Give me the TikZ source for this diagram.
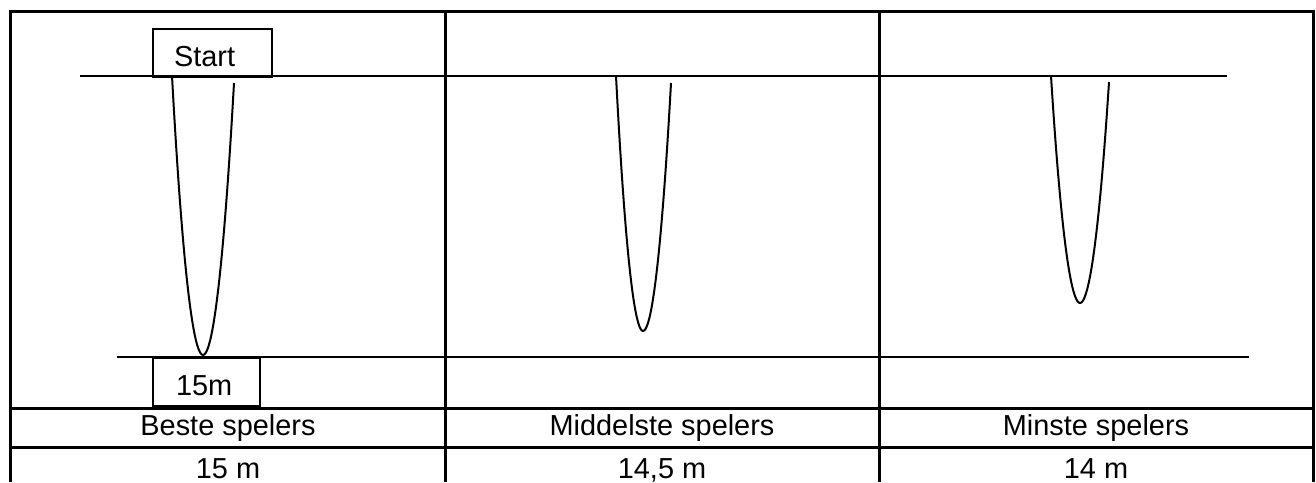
\documentclass[tikz,border=0pt]{standalone}
\usepackage{fontspec}
\setmainfont{Liberation Sans}
\tikzset{
    frame/.style={line width=1.5pt},
    level/.style={line width=1pt},
    throw/.style={line width=1pt},
    labelbox/.style={draw, line width=1pt, anchor=north west, align=left,
        text height=13.7pt, text depth=0pt, minimum height=24pt, inner ysep=0pt,
        font=\fontsize{14.45}{17}\selectfont},
    cell/.style={anchor=base, font=\fontsize{14.45}{17}\selectfont}
}

\begin{document}
\begin{tikzpicture}[x=0.5pt, y=-0.5pt]
            \useasboundingbox (0,0) rectangle (1316,482);
            % table
            \draw[frame] (10,482) -- (10,11) -- (1313,11) -- (1313,482);
            \draw[frame] (445,11) -- (445,482);
            \draw[frame] (879,11) -- (879,482);
            \draw[frame] (10,408) -- (1313,408);
            \draw[frame] (10,447) -- (1313,447);
            % start and end lines
            \draw[level] (80,76) -- (1227,76);
            \draw[level] (117,357) -- (1249,357);
            % throws
            \draw[throw] (172,76) parabola bend (203,355) (234,83);
            \draw[throw] (616,76) parabola bend (643,331) (671,83);
            \draw[throw] (1051,76) parabola bend (1080,303) (1109,82);
            \node[labelbox, inner xsep=10.5pt, text width=38.5pt] (start) at (152,28) {Start};
            \node[labelbox, inner xsep=11.5pt, text width=30.5pt] (dist) at (152,357) {15m};
            % labels
            \node[cell] (best) at (228,435) {Beste spelers};
            \node[cell] (middle) at (662,435) {Middelste spelers};
            \node[cell] (least) at (1096,435) {Minste spelers};
            \node[cell] (bestval) at (228,478) {15 m};
            \node[cell] (middleval) at (662,478) {14,5 m};
            \node[cell] (leastval) at (1096,478) {14 m};
        \end{tikzpicture}
\end{document}
